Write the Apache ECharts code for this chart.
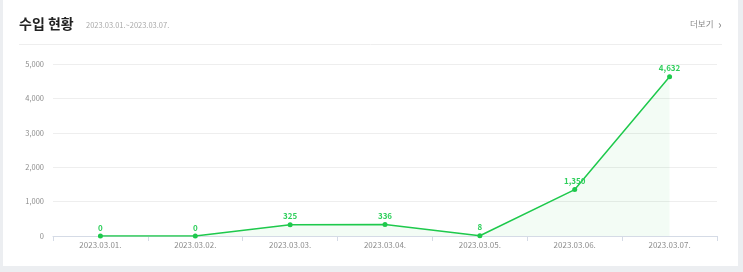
<!DOCTYPE html>
<html>
<head>
<meta charset="utf-8">
<script src="https://cdn.jsdelivr.net/npm/echarts@6/dist/echarts.min.js"></script>
<style>
  html, body { margin: 0; padding: 0; background: #eceef1; }
  #chart { width: 743px; height: 272px; }
</style>
</head>
<body>
<div id="chart"></div>
<script>
// 수입 현황 data
const dates = ["2023.03.01.", "2023.03.02.", "2023.03.03.", "2023.03.04.", "2023.03.05.", "2023.03.06.", "2023.03.07."];
const income = [0, 0, 325, 336, 8, 1350, 4632];
const yTicks = [0, 1000, 2000, 3000, 4000, 5000];

const green = "#1ec94c";
const font = "'Noto Sans CJK KR', 'Noto Sans', sans-serif";

const chart = echarts.init(document.getElementById("chart"));
chart.setOption({
  animation: false,
  textStyle: { fontFamily: font },
  graphic: [
    {
      type: "rect",
      z: -10,
      shape: { x: 3, y: 0, width: 735, height: 266 },
      style: { fill: "#fff" }
    },
    {
      type: "line",
      shape: { x1: 19, y1: 44.5, x2: 722, y2: 44.5 },
      style: { stroke: "#eeeeee", lineWidth: 1 }
    },
    {
      type: "text",
      left: 19,
      top: 17,
      style: { text: "수입 현황", font: "bold 14px " + font, fill: "#222" }
    },
    {
      type: "text",
      left: 86,
      top: 21,
      style: { text: "2023.03.01.~2023.03.07.", font: "7.5px " + font, fill: "#a8a8a8" }
    },
    {
      type: "text",
      left: 690,
      top: 20,
      style: { text: "더보기", font: "8.5px " + font, fill: "#8a8a8a" }
    },
    {
      type: "text",
      left: 718,
      top: 18,
      style: { text: "›", font: "12px " + font, fill: "#8a8a8a" }
    }
  ],
  grid: { left: 53, right: 26, top: 64, bottom: 36 },
  xAxis: {
    type: "category",
    data: dates,
    boundaryGap: true,
    axisLine: { lineStyle: { color: "#d5dbe6" } },
    axisTick: { show: true, length: 5, lineStyle: { color: "#d5dbe6" } },
    axisLabel: { color: "#8c8c8c", fontSize: 8, margin: 5 }
  },
  yAxis: {
    type: "value",
    min: yTicks[0],
    max: yTicks[yTicks.length - 1],
    interval: 1000,
    axisLine: { show: false },
    axisTick: { show: false },
    axisLabel: {
      color: "#8c8c8c",
      fontSize: 7.5,
      margin: 9,
      formatter: v => v.toLocaleString("en-US")
    },
    splitLine: { lineStyle: { color: "#eeeeee" } }
  },
  series: [
    {
      type: "line",
      data: income,
      symbol: "circle",
      symbolSize: 5,
      lineStyle: { color: green, width: 1.5 },
      itemStyle: { color: green },
      areaStyle: { color: "rgba(30, 201, 76, 0.08)" },
      label: {
        show: true,
        position: "top",
        distance: 2,
        color: "#2fcf5c",
        fontSize: 8,
        fontWeight: "bold",
        formatter: p => p.value.toLocaleString("en-US")
      }
    }
  ]
});
</script>
</body>
</html>
